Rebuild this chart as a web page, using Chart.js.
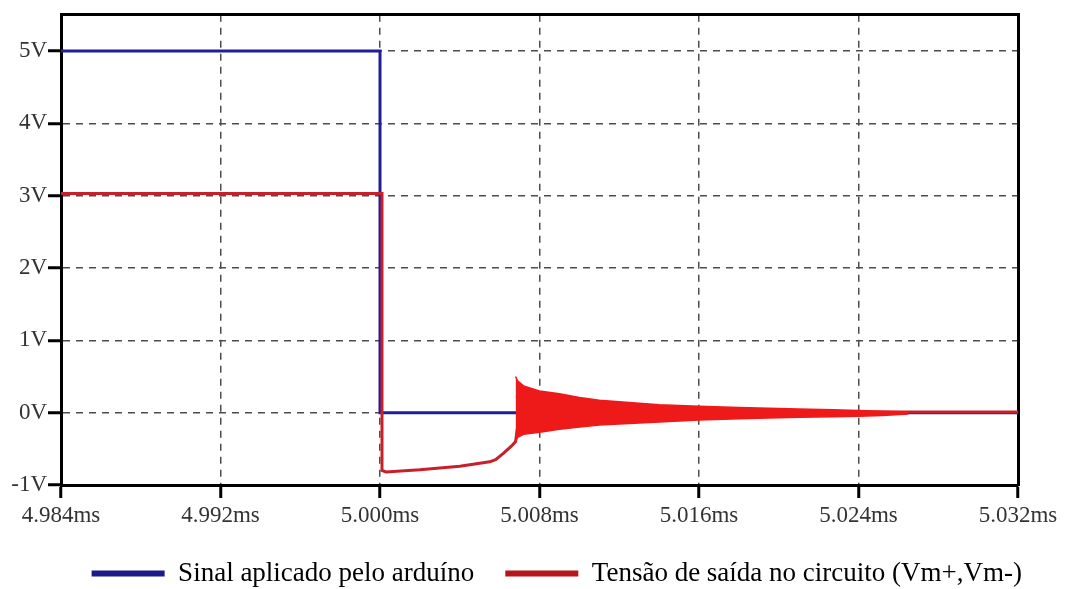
<!DOCTYPE html>
<html lang="pt">
<head>
    <meta charset="UTF-8">
    <title>Sinal aplicado e tensão de saída</title>
    <script src="https://cdn.jsdelivr.net/npm/chart.js"></script>
    <style>
        body {
            margin: 0;
            background-color: #ffffff;
        }

        #box {
            position: relative;
            width: 1066px;
            height: 589px;
        }
    </style>
</head>
<body>
    <div id="box">
        <canvas id="grafico"></canvas>
    </div>

    <script>
        // Eixos (ms e V)
        const xTicks = [4.984, 4.992, 5.000, 5.008, 5.016, 5.024, 5.032];
        const yTicks = [-1, 0, 1, 2, 3, 4, 5];

        // Sinal aplicado pelo arduino
        const tAzul = [4.984, 5.000, 5.000, 5.032];
        const vAzul = [5, 5, 0, 0];

        // Tensão de saída (traço principal)
        const tVermelho = [4.984, 5.0001, 5.0001, 5.0003, 5.002, 5.004, 5.0055, 5.0058, 5.0062, 5.0066, 5.0068, 5.0070, 5.010, 5.015, 5.020, 5.025, 5.032];
        const vVermelho = [3.03, 3.03, -0.80, -0.82, -0.79, -0.74, -0.68, -0.65, -0.56, -0.46, -0.40, 0.01, 0.01, 0.01, 0.01, 0.01, 0.01];

        // Envelope da oscilação (topo e fundo)
        const tEnvelope = [5.0068, 5.0069, 5.0072, 5.0080, 5.0090, 5.0100, 5.0110, 5.0125, 5.0140, 5.0160, 5.0180, 5.0195, 5.0210, 5.0227, 5.0240, 5.0252, 5.0265];
        const vTopo = [0.50, 0.44, 0.37, 0.30, 0.26, 0.21, 0.17, 0.14, 0.11, 0.09, 0.07, 0.06, 0.05, 0.04, 0.03, 0.02, 0.01];
        const vFundo = [-0.40, -0.34, -0.30, -0.27, -0.23, -0.20, -0.17, -0.15, -0.13, -0.10, -0.085, -0.075, -0.065, -0.055, -0.05, -0.04, -0.02];

        const corAzul = '#1e1e9a';
        const corVermelho = '#c8202a';
        const corOscilacao = '#ee1a1a';

        function pontos(ts, vs) {
            return ts.map((t, i) => ({ x: t, y: vs[i] }));
        }

        const fonte = "'Liberation Serif', 'Times New Roman', serif";

        const ctx = document.getElementById('grafico').getContext('2d');
        const grafico = new Chart(ctx, {
            type: 'line',
            data: {
                datasets: [
                    {
                        label: 'topo',
                        data: pontos(tEnvelope, vTopo),
                        borderColor: corOscilacao,
                        backgroundColor: corOscilacao,
                        borderWidth: 1.5,
                        fill: false
                    },
                    {
                        label: 'fundo',
                        data: pontos(tEnvelope, vFundo),
                        borderColor: corOscilacao,
                        backgroundColor: corOscilacao,
                        borderWidth: 1.5,
                        fill: '-1'
                    },
                    {
                        label: 'Tensão de saída no circuito (Vm+,Vm-)',
                        legenda: true,
                        data: pontos(tVermelho, vVermelho),
                        borderColor: corVermelho,
                        backgroundColor: '#b8141c',
                        borderWidth: 3,
                        fill: false
                    },
                    {
                        label: 'Sinal aplicado pelo arduíno',
                        legenda: true,
                        data: pontos(tAzul, vAzul),
                        borderColor: corAzul,
                        backgroundColor: '#1a1a8c',
                        borderWidth: 3,
                        fill: false
                    }
                ]
            },
            options: {
                responsive: true,
                maintainAspectRatio: false,
                animation: false,
                events: [],
                elements: {
                    point: { radius: 0 },
                    line: { tension: 0 }
                },
                layout: { padding: { top: 0, left: 0, bottom: 0, right: 13 } },
                scales: {
                    x: {
                        type: 'linear',
                        position: 'bottom',
                        min: 4.984,
                        max: 5.032,
                        afterBuildTicks: s => { s.ticks = xTicks.map(v => ({ value: v })); },
                        afterFit: s => { s.height = 44; },
                        ticks: {
                            autoSkip: false,
                            maxRotation: 0,
                            padding: 4,
                            color: '#333',
                            font: { family: fonte, size: 23 },
                            callback: v => v.toFixed(3) + 'ms'
                        },
                        grid: {
                            color: '#4d4d4d',
                            lineWidth: 1.5,
                            tickLength: 13,
                            tickColor: '#000',
                            tickWidth: 3
                        },
                        border: { color: '#000', width: 3, dash: [7, 6] }
                    },
                    y: {
                        type: 'linear',
                        position: 'left',
                        min: -1,
                        max: 5.5,
                        afterBuildTicks: s => { s.ticks = yTicks.map(v => ({ value: v })); },
                        afterFit: s => { s.width = 61; },
                        ticks: {
                            padding: 1,
                            color: '#333',
                            font: { family: fonte, size: 23 },
                            callback: v => v + 'V'
                        },
                        grid: {
                            color: '#4d4d4d',
                            lineWidth: 1.5,
                            tickLength: 13,
                            tickColor: '#000',
                            tickWidth: 3
                        },
                        border: { color: '#000', width: 3, dash: [7, 6] }
                    },
                    // moldura de cima e da direita
                    x2: {
                        type: 'linear',
                        position: 'top',
                        grid: { display: false },
                        ticks: { display: false },
                        border: { color: '#000', width: 3 },
                        afterFit: s => { s.height = 12; }
                    },
                    y2: {
                        type: 'linear',
                        position: 'right',
                        grid: { display: false },
                        ticks: { display: false },
                        border: { color: '#000', width: 3 },
                        afterFit: s => { s.width = 35; }
                    }
                },
                plugins: {
                    tooltip: { enabled: false },
                    legend: {
                        position: 'bottom',
                        align: 'end',
                        maxHeight: 60,
                        labels: {
                            boxWidth: 73,
                            boxHeight: 6,
                            padding: 31,
                            color: '#2e2e2e',
                            font: { family: fonte, size: 27 },
                            generateLabels: chart => chart.data.datasets
                                .map((d, i) => ({ d, i }))
                                .filter(o => o.d.legenda)
                                .reverse()
                                .map(o => ({
                                    text: o.d.label,
                                    fillStyle: o.d.backgroundColor,
                                    strokeStyle: o.d.backgroundColor,
                                    lineWidth: 0,
                                    datasetIndex: o.i
                                }))
                        }
                    }
                }
            }
        });
    </script>
</body>
</html>
